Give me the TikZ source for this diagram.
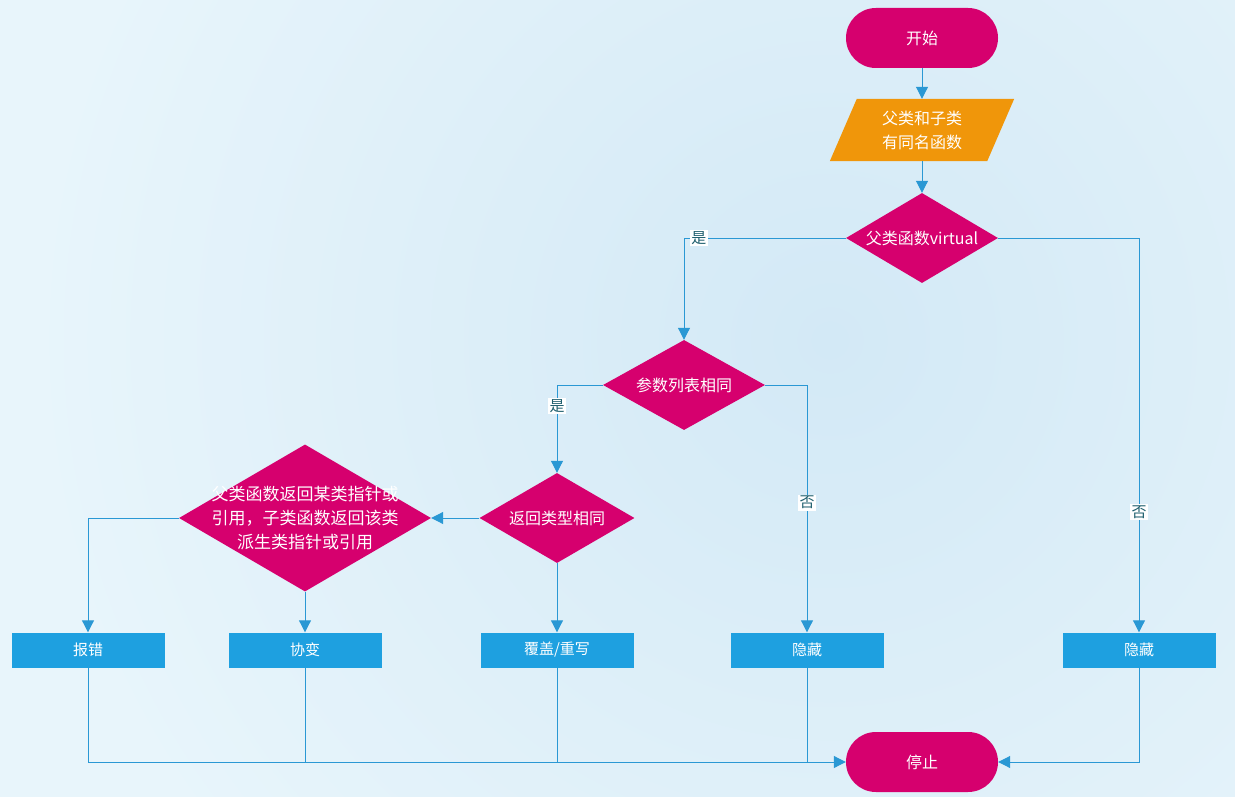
\documentclass[tikz,border=0pt]{standalone}
\usepackage{fontspec}
\setmainfont{Noto Sans CJK SC}
\usetikzlibrary{shapes.geometric,arrows.meta,calc}
\definecolor{mag}{HTML}{D6006E}
\definecolor{org}{HTML}{F0960A}
\definecolor{boxblue}{HTML}{1EA0E0}
\definecolor{lnc}{HTML}{2A98D4}
\definecolor{labc}{HTML}{1F5F6E}
\definecolor{bgin}{HTML}{D3E9F6}
\definecolor{bgout}{HTML}{E8F5FB}
\tikzset{
  term/.style={rectangle, rounded corners=29.9pt, fill=mag, text=white, minimum width=152pt, minimum height=60pt, inner sep=0pt, font=\fontsize{16}{20}\selectfont},
  dia/.style={diamond, fill=mag, inner sep=0pt, text=white},
  dtext/.style={text=white, align=center, font=\fontsize{16}{24}\selectfont},
  bx/.style={rectangle, fill=boxblue, text=white, minimum width=153pt, minimum height=35pt, inner sep=0pt, font=\fontsize{15}{18}\selectfont},
  ln/.style={draw=lnc, line width=1pt},
  arr/.style={ln, -{Triangle[width=12pt,length=12pt]}},
  lab/.style={fill=white, inner sep=1.5pt, text=labc, font=\fontsize{15}{17}\selectfont}
}
\begin{document}
\begin{tikzpicture}[x=1pt,y=-1pt]
\useasboundingbox (0,0) rectangle (1235,797);
\begin{scope}
\clip (0,0) rectangle (1235,797);
\fill[bgout] (0,0) rectangle (1235,797);
\shade[inner color=bgin, outer color=bgout] (830,340) circle (800pt);
\end{scope}
% nodes
\node[term] (start) at (922,38) {开始};
\node[rectangle, minimum width=184pt, minimum height=62pt, inner sep=0pt] (para) at (922,130) {};
\fill[org] ($(para.north west)+(27,0)$) -- (para.north east) -- ($(para.south east)+(-27,0)$) -- (para.south west) -- cycle;
\node[dtext] (paratext) at (para) {父类和子类\\有同名函数};
\node[dia, minimum width=152pt, minimum height=90pt, label={[dtext]center:父类函数virtual}] (d1) at (922,238) {};
\node[dia, minimum width=162pt, minimum height=90pt, label={[dtext]center:参数列表相同}] (d2) at (684,385) {};
\node[dia, minimum width=155pt, minimum height=90pt, label={[dtext]center:返回类型相同}] (d3) at (557,518) {};
\node[dia, minimum width=252pt, minimum height=147pt, label={[dtext, font=\fontsize{17}{24}\selectfont]center:父类函数返回某类指针或\\引用，子类函数返回该类\\派生类指针或引用}] (d4) at (305,518) {};
\node[bx] (b1) at (88,650) {报错};
\node[bx] (b2) at (305,650) {协变};
\node[bx] (b3) at (557,650) {覆盖/重写};
\node[bx] (b4) at (807,650) {隐藏};
\node[bx] (b5) at (1139,650) {隐藏};
\node[term] (stop) at (922,762) {停止};
% connectors
\draw[arr] (start) -- (para);
\draw[arr] (para) -- (d1);
\draw[arr] (d1.west) -| node[lab, pos=0.454] {是} (d2.north);
\draw[arr] (d1.east) -| node[lab, pos=0.848] {否} (b5.north);
\draw[arr] (d2.west) -| node[lab, pos=0.62] {是} (d3.north);
\draw[arr] (d2.east) -| node[lab, pos=0.738] {否} (b4.north);
\draw[arr] (d3.west) -- (d4.east);
\draw[arr] (d3.south) -- (b3.north);
\draw[arr] (d4.west) -| (b1.north);
\draw[arr] (d4.south) -- (b2.north);
\draw[arr] (b1.south) |- (stop.west);
\draw[ln] (b2.south) -- (b2.south |- stop.west);
\draw[ln] (b3.south) -- (b3.south |- stop.west);
\draw[ln] (b4.south) -- (b4.south |- stop.west);
\draw[arr] (b5.south) |- (stop.east);
\end{tikzpicture}
\end{document}
